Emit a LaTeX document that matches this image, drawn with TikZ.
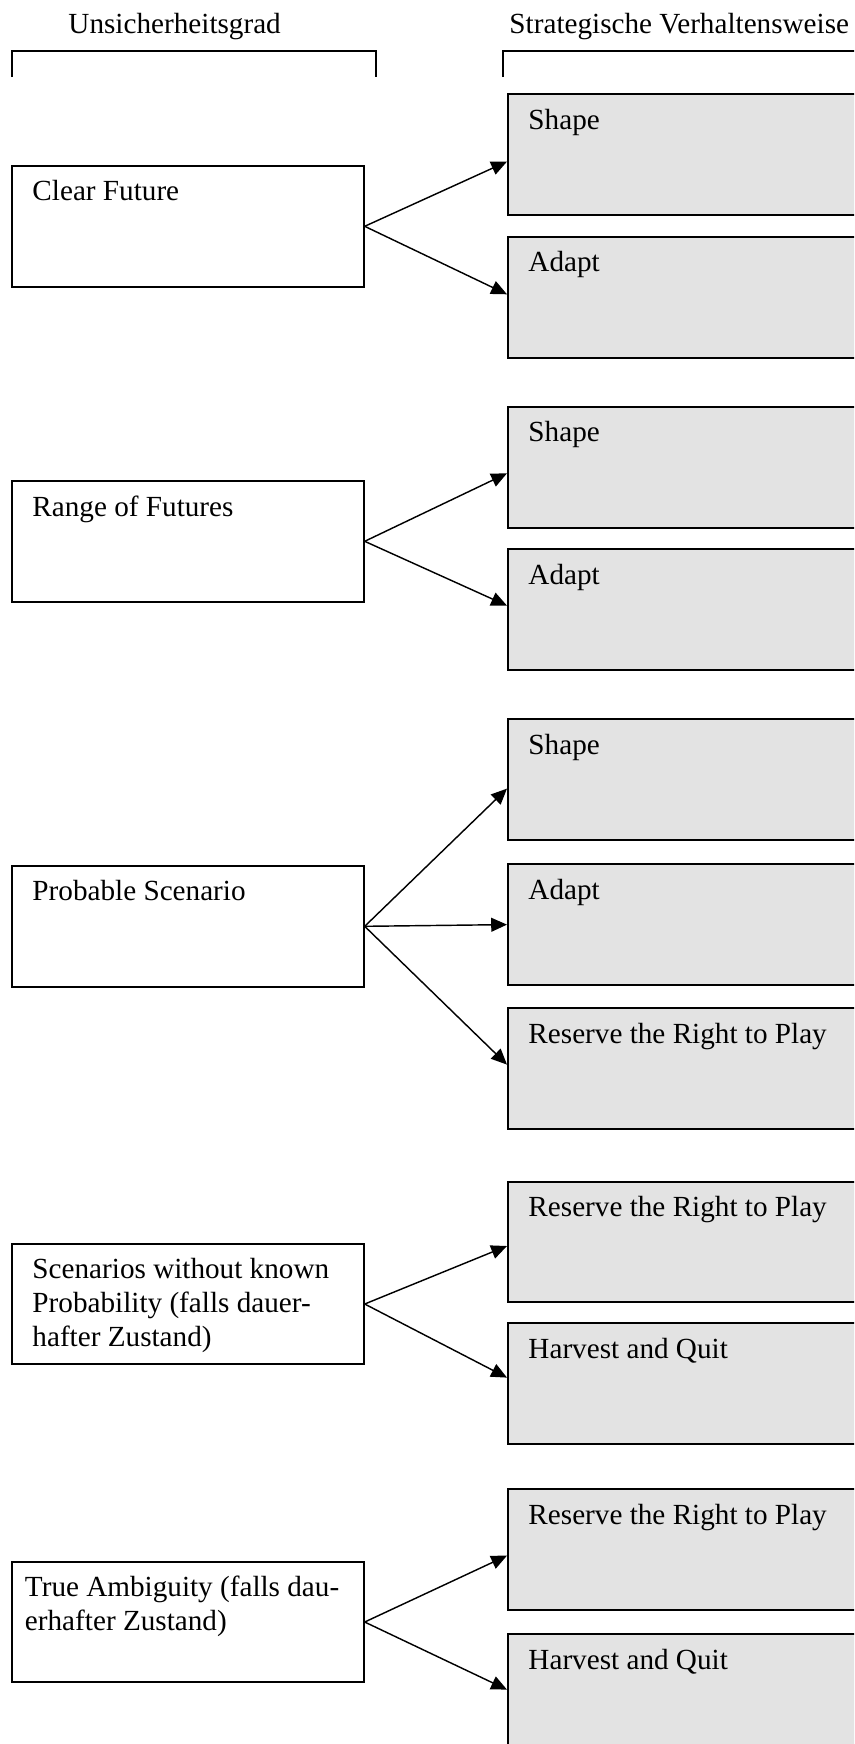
\documentclass[tikz,border=0pt]{standalone}
\usepackage{fontspec}
\setmainfont{Liberation Serif}
\usepackage{xcolor}
\usepackage{tikz}
\usetikzlibrary{arrows.meta,positioning}
\definecolor{choicegray}{RGB}{227,227,227}
\tikzset{
  degree/.style={draw,line width=0.85pt,anchor=north west,inner sep=0pt,
    minimum width=147pt,minimum height=50.4pt},
  choice/.style={degree,fill=choicegray,minimum width=167pt},
  boxtext/.style={anchor=north west,align=left,inner sep=0pt},
  header/.style={anchor=base west,inner sep=0pt},
  bracket/.style={line width=0.85pt},
  branch/.style={-{Triangle[length=6.6pt,width=5.8pt]},line width=0.6pt}
}

\begin{document}
\begin{tikzpicture}[x=0.418pt,y=-0.418pt,font=\fontsize{12.2}{14.2}\selectfont]
  \clip (0,0) rectangle (854,1744);
  \useasboundingbox (0,0) rectangle (854,1744);
  % column heads
  \node[header] (unsicher) at (68,33) {Unsicherheitsgrad};
  \node[header] (verhalten) at (509,33) {Strategische Verhaltensweise};
  \draw[bracket] (12,77) |- (376,51) -- (376,77);
  \draw[bracket] (503,77) |- (900,51);
  % degrees of uncertainty
  \node[degree] (clear) at (11,165) {};
  \node[degree] (range) at (11,480) {};
  \node[degree] (probable) at (11,865) {};
  \node[degree] (noprob) at (11,1242.7) {};
  \node[degree] (ambiguity) at (11,1560.7) {};
  \node[boxtext] (clear-t) at ([shift={(21,15)}]clear.north west) {Clear Future};
  \node[boxtext] (range-t) at ([shift={(21,15)}]range.north west) {Range of Futures};
  \node[boxtext] (probable-t) at ([shift={(21,15)}]probable.north west) {Probable Scenario};
  \node[boxtext] (noprob-t) at ([shift={(21,15)}]noprob.north west)
    {Scenarios without known\\Probability (falls dauer-\\hafter Zustand)};
  \node[boxtext] (ambiguity-t) at ([shift={(13.5,15)}]ambiguity.north west)
    {True Ambiguity (falls dau-\\erhafter Zustand)};
  % strategic postures
  \foreach \name/\ytop/\txt in {
    shapeA/93.3/Shape, adaptA/236/Adapt,
    shapeB/406/Shape, adaptB/548.3/Adapt,
    shapeC/718.3/Shape, adaptC/863.3/Adapt, reserveC/1007.3/Reserve the Right to Play,
    reserveD/1180.7/Reserve the Right to Play, harvestD/1322.3/Harvest and Quit,
    reserveE/1488.3/Reserve the Right to Play, harvestE/1633.3/Harvest and Quit
  } {
    \node[choice] (\name) at (507,\ytop) {};
    \node[boxtext] (\name-t) at ([shift={(21,15)}]\name.north west) {\txt};
  }
  % arrows
  \foreach \from/\to/\dy in {
    clear/shapeA/7, clear/adaptA/-3,
    range/shapeB/6, range/adaptB/-4,
    probable/shapeC/9, probable/adaptC/0, probable/reserveC/-4,
    noprob/reserveD/4, noprob/harvestD/-6,
    ambiguity/reserveE/6, ambiguity/harvestE/-5
  } {
    \draw[branch] (\from.east) -- ([shift={(0,\dy)}]\to.west);
  }
\end{tikzpicture}
\end{document}
